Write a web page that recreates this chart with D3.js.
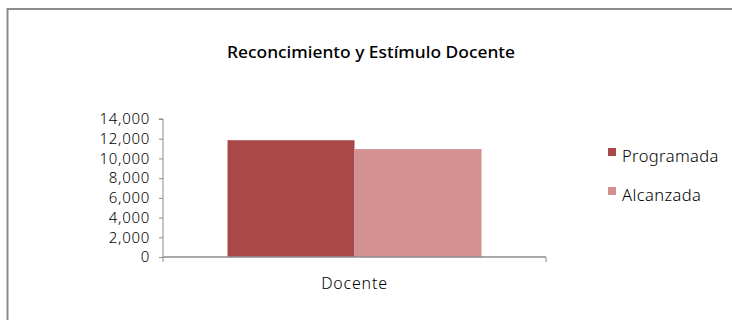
<!DOCTYPE html>
<html><head><meta charset="utf-8">
<script src="https://cdn.jsdelivr.net/npm/d3@7"></script>
<style>body{margin:0;background:#fff}svg{display:block}</style>
</head><body>
<svg id="c" width="732" height="320"></svg>
<script>
const categories = ["Docente"];
const seriesNames = ["Programada", "Alcanzada"];
const programada = [11850];
const alcanzada = [10950];
const yTicks = [0, 2000, 4000, 6000, 8000, 10000, 12000, 14000];
const title = "Reconcimiento y Estímulo Docente";
const colors = ["#a84848", "#d39090"];

(function () {
const svg = d3.select("#c");
const font = "'Noto Sans', sans-serif";

svg.append("rect").attr("x", 7.5).attr("y", 9).attr("width", 740).attr("height", 330)
  .attr("fill", "none").attr("stroke", "#8c8c8c").attr("stroke-width", 2);

svg.append("text").attr("x", 371).attr("y", 58).attr("text-anchor", "middle")
  .attr("font-family", font).attr("font-size", 16).attr("font-weight", 500)
  .attr("fill", "#000").attr("textLength", 288).attr("lengthAdjust", "spacingAndGlyphs").text(title);

const pLeft = 163, pRight = 546, pTop = 119, pBottom = 257;
const y = d3.scaleLinear().domain([0, 14000]).range([pBottom, pTop]);
const x0 = d3.scaleBand().domain(categories).range([pLeft, pRight]).paddingInner(0).paddingOuter(0.254);
const x1 = d3.scaleBand().domain(seriesNames).range([0, x0.bandwidth()]);

const data = categories.map((c, i) => ({cat: c, vals: [programada[i], alcanzada[i]]}));

const g = svg.append("g");
data.forEach(d => {
  d.vals.forEach((v, j) => {
    g.append("rect")
      .attr("x", x0(d.cat) + x1(seriesNames[j]))
      .attr("y", y(v))
      .attr("width", x1.bandwidth())
      .attr("height", y(0) - y(v))
      .attr("fill", colors[j]);
  });
});

// Y axis
const yAxis = d3.axisLeft(y).tickValues(yTicks).tickSize(4).tickFormat(d3.format(",")).tickPadding(9);
const ya = svg.append("g").attr("transform", `translate(${pLeft},0)`).call(yAxis);
ya.select(".domain").attr("stroke", "#8c8c8c").attr("d", `M-4,${pTop}H0V${pBottom}`);
ya.selectAll(".tick line").attr("stroke", "#8c8c8c");
ya.selectAll(".tick text").attr("font-family", font).attr("font-size", 15).attr("font-weight", 300)
  .attr("fill", "#000").attr("letter-spacing", 0.7);

// X axis
const xa = svg.append("g").attr("transform", `translate(0,${pBottom})`);
xa.append("path").attr("d", `M${pLeft},0H${pRight}`).attr("stroke", "#8c8c8c").attr("stroke-width", 1.5).attr("fill", "none");
[pLeft, pRight].forEach(px => xa.append("line").attr("x1", px).attr("x2", px).attr("y1", 0).attr("y2", 5).attr("stroke", "#8c8c8c"));
categories.forEach(c => {
  xa.append("text").attr("x", x0(c) + x0.bandwidth() / 2).attr("y", 32).attr("text-anchor", "middle")
    .attr("font-family", font).attr("font-size", 16).attr("font-weight", 300).attr("letter-spacing", 0.8)
    .attr("fill", "#000").text(c);
});

// Legend
const lg = svg.append("g");
seriesNames.forEach((s, j) => {
  const yy = 148 + j * 39;
  lg.append("rect").attr("x", 608).attr("y", yy).attr("width", 8).attr("height", 8).attr("fill", colors[j]);
  lg.append("text").attr("x", 622).attr("y", yy + 14).attr("font-family", font).attr("font-size", 16.5)
    .attr("font-weight", 300).attr("letter-spacing", 0.4).attr("fill", "#000").text(s);
});
})();
</script>
</body></html>
